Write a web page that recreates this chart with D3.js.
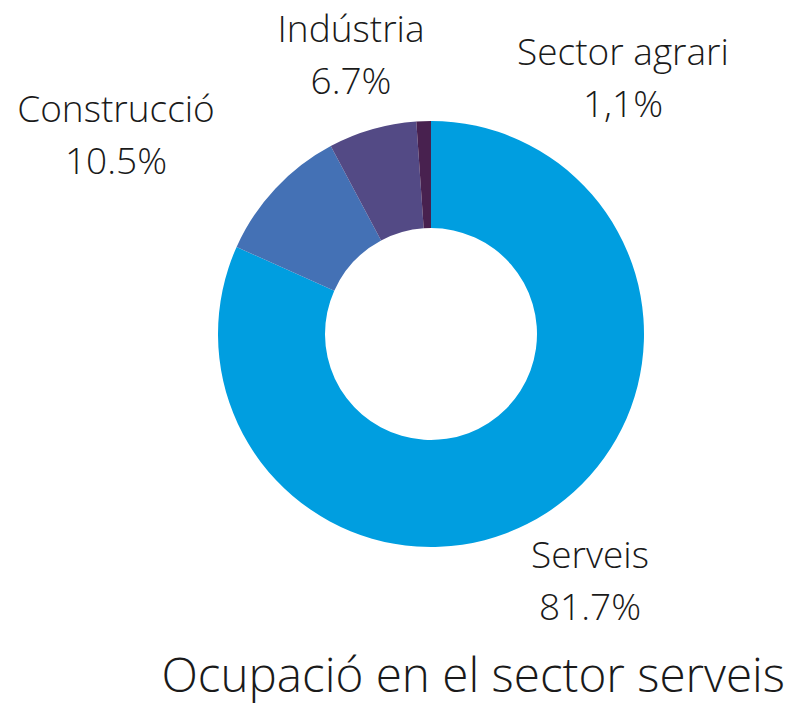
<!DOCTYPE html>
<meta charset="utf-8">
<script src="https://d3js.org/d3.v7.min.js"></script>
<style>
  body { margin: 0; background: #fff; }
  text { font-family: "Open Sans", sans-serif; font-weight: 300; fill: #1a1a1a; }
</style>
<div id="my_dataviz"></div>
<script>

// data
var sectors = ["Serveis", "Construcció", "Indústria", "Sector agrari"];
var shares = [81.7, 10.5, 6.7, 1.1];
var shareLabels = ["81.7%", "10.5%", "6.7%", "1,1%"];
var colors = ["#009ee0", "#4471b5", "#534a85", "#48214f"];

var width = 792, height = 703;
var cx = 431, cy = 334, outerR = 213, innerR = 106;

// where each label sits (centre x, baseline of first line)
var labelPos = [[590, 568], [116, 122], [351, 42], [623, 65]];

var svg = d3.select("#my_dataviz")
  .append("svg")
    .attr("width", width)
    .attr("height", height);

var pie = d3.pie().sort(null).value(function(d) { return d; });
var arc = d3.arc().innerRadius(innerR).outerRadius(outerR);

var g = svg.append("g")
  .attr("transform", "translate(" + cx + "," + cy + ")");

g.selectAll("path")
  .data(pie(shares))
  .enter()
  .append("path")
    .attr("d", arc)
    .attr("fill", function(d, i) { return colors[i]; });

// labels, two lines each
var lab = svg.selectAll(".lab")
  .data(sectors)
  .enter()
  .append("text")
    .attr("class", "lab")
    .attr("text-anchor", "middle")
    .style("font-size", "37px");

lab.append("tspan")
  .attr("x", function(d, i) { return labelPos[i][0]; })
  .attr("y", function(d, i) { return labelPos[i][1]; })
  .text(function(d) { return d; });

lab.append("tspan")
  .attr("x", function(d, i) { return labelPos[i][0]; })
  .attr("y", function(d, i) { return labelPos[i][1] + 52; })
  .text(function(d, i) { return shareLabels[i]; });

// title
svg.append("text")
  .attr("x", 785)
  .attr("y", 692)
  .attr("text-anchor", "end")
  .style("font-size", "47.6px")
  .text("Ocupació en el sector serveis");

</script>
